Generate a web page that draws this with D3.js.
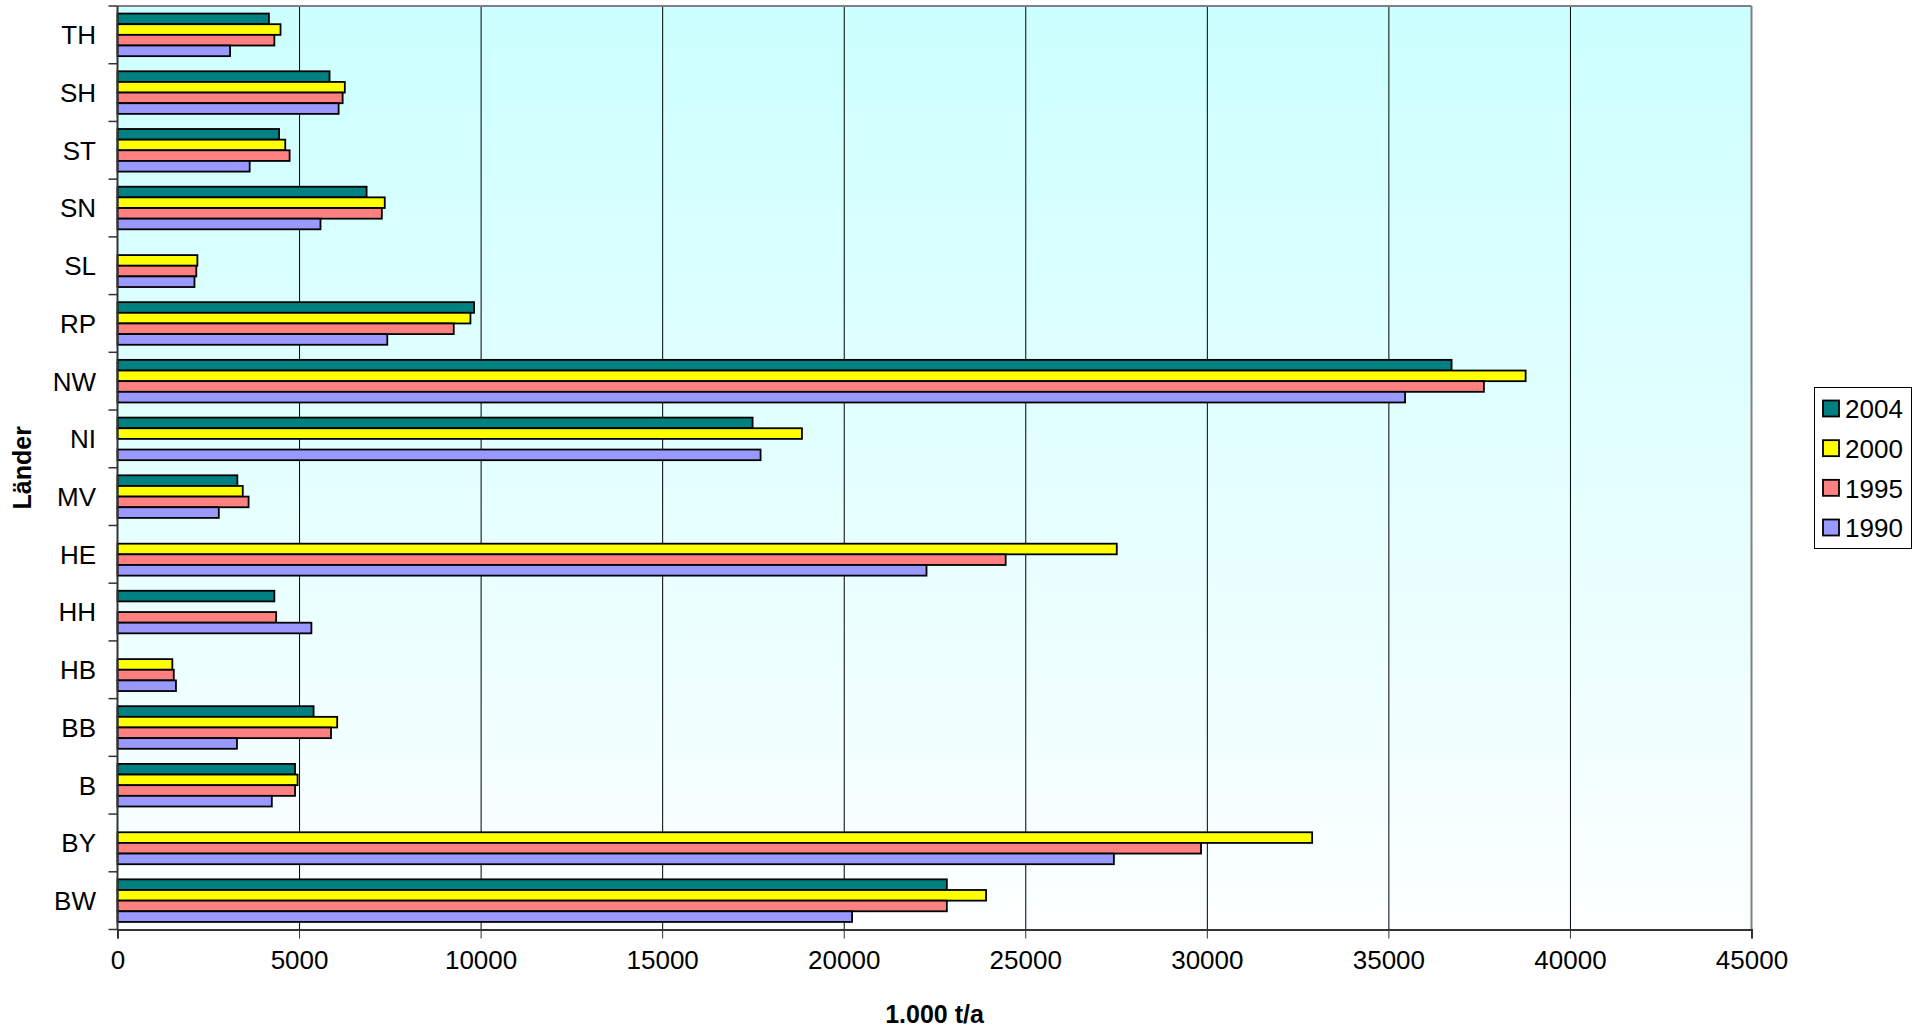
<!DOCTYPE html>
<html><head><meta charset="utf-8">
<script src="https://cdn.jsdelivr.net/npm/d3@7"></script>
<style>html,body{margin:0;padding:0;background:#fff;overflow:hidden}</style>
</head><body>
<svg id="chart" width="1914" height="1033"></svg>
<script>
const categories = ["TH","SH","ST","SN","SL","RP","NW","NI","MV","HE","HH","HB","BB","B","BY","BW"];
const seriesNames = ["2004","2000","1995","1990"];
const values2004 = [4170,5840,4450,6860,null,9820,36740,17490,3300,null,4320,null,5400,4890,null,22840];
const values2000 = [4490,6260,4620,7360,2200,9720,38780,18850,3450,27520,null,1510,6050,4960,32900,23920];
const values1995 = [4320,6200,4740,7280,2170,9260,37630,null,3610,24460,4370,1550,5880,4890,29840,22840];
const values1990 = [3100,6090,3640,5590,2120,7430,35460,17710,2790,22280,5340,1610,3290,4250,27440,20230];
const xTicks = [0,5000,10000,15000,20000,25000,30000,35000,40000,45000];
const colors = ["#008080","#FFFF00","#FF8080","#9999FF"];

const seriesValues = [values2004, values2000, values1995, values1990];
const svg = d3.select("#chart");
const L = 117.5, R = 1751.5, T = 6, B = 929.5;
const font = "'Liberation Sans', Arial, sans-serif";

const x = d3.scaleLinear().domain([0,45000]).range([L,R]);
const y = d3.scaleBand().domain(categories).range([T,B]).paddingInner(0.262).paddingOuter(0.131);
const ySub = d3.scaleBand().domain(seriesNames).range([0,y.bandwidth()]).padding(0);

const defs = svg.append("defs");
const grad = defs.append("linearGradient").attr("id","bg").attr("x1",0).attr("y1",0).attr("x2",0).attr("y2",1);
grad.append("stop").attr("offset","0%").attr("stop-color","#CCFFFF");
grad.append("stop").attr("offset","100%").attr("stop-color","#FCFFFF");

svg.append("rect").attr("x",L).attr("y",T).attr("width",R-L).attr("height",B-T).attr("fill","url(#bg)");

// gridlines
svg.append("g").selectAll("line").data(xTicks.slice(1,-1)).join("line")
  .attr("x1",d=>x(d)+0.5).attr("x2",d=>x(d)+0.5).attr("y1",T).attr("y2",B)
  .attr("stroke","#000").attr("stroke-width",1);

// plot border top/right
svg.append("line").attr("x1",L).attr("x2",R).attr("y1",T).attr("y2",T).attr("stroke","#808080").attr("stroke-width",2);
svg.append("line").attr("x1",R).attr("x2",R).attr("y1",T).attr("y2",B).attr("stroke","#808080").attr("stroke-width",2);

// bars
const rows = [];
categories.forEach((c,i)=>{
  seriesNames.forEach((s,j)=>{
    const v = seriesValues[j][i];
    if (v !== null) rows.push({c, s, v, color: colors[j]});
  });
});
svg.append("g").selectAll("rect").data(rows).join("rect")
  .attr("x", x(0))
  .attr("y", d => y(d.c) + ySub(d.s))
  .attr("width", d => x(d.v) - x(0))
  .attr("height", ySub.bandwidth())
  .attr("fill", d => d.color)
  .attr("stroke","#000").attr("stroke-width",1.8);

// x axis
const xAxis = d3.axisBottom(x).tickValues(xTicks).tickSize(9).tickPadding(12).tickFormat(d3.format("d"));
const gx = svg.append("g").attr("transform",`translate(0,${B})`).call(xAxis);
gx.select(".domain").attr("stroke","#333").attr("stroke-width",2);
gx.selectAll(".tick line").attr("stroke","#333");
gx.selectAll("text").attr("font-family",font).attr("font-size",26).attr("fill","#000");

// y axis: ticks at band boundaries
const yAxisG = svg.append("g");
yAxisG.append("line").attr("x1",L).attr("x2",L).attr("y1",T).attr("y2",B).attr("stroke","#333").attr("stroke-width",2);
const step = y.step();
const bounds = d3.range(categories.length+1).map(i => T + i*step);
yAxisG.selectAll("line.tk").data(bounds).join("line").attr("class","tk")
  .attr("x1",L-9).attr("x2",L).attr("y1",d=>d).attr("y2",d=>d).attr("stroke","#333").attr("stroke-width",1.5);
yAxisG.selectAll("text").data(categories).join("text")
  .attr("x",96).attr("y",d=>y(d)+y.bandwidth()/2).attr("dy","0.36em")
  .attr("text-anchor","end").attr("font-family",font).attr("font-size",26).attr("fill","#000").text(d=>d);

// axis titles
svg.append("text").attr("x",(L+R)/2).attr("y",1023).attr("text-anchor","middle")
  .attr("font-family",font).attr("font-size",25).attr("font-weight","bold").text("1.000 t/a");
svg.append("text").attr("transform",`translate(31,${(T+B)/2}) rotate(-90)`).attr("text-anchor","middle")
  .attr("font-family",font).attr("font-size",25).attr("font-weight","bold").text("Länder");

// legend
const lg = svg.append("g");
lg.append("rect").attr("x",1814.5).attr("y",387.5).attr("width",97).attr("height",161)
  .attr("fill","#fff").attr("stroke","#000").attr("stroke-width",1);
const legY = d3.scalePoint().domain(seriesNames).range([409,528]);
lg.selectAll("rect.sw").data(seriesNames).join("rect").attr("class","sw")
  .attr("x",1823).attr("y",d=>legY(d)-8.5).attr("width",16).attr("height",16)
  .attr("fill",(d,i)=>colors[i]).attr("stroke","#000").attr("stroke-width",1.8);
lg.selectAll("text").data(seriesNames).join("text")
  .attr("x",1845).attr("y",d=>legY(d)).attr("dy","0.36em")
  .attr("font-family",font).attr("font-size",26).attr("fill","#000").text(d=>d);
</script>
</body></html>
